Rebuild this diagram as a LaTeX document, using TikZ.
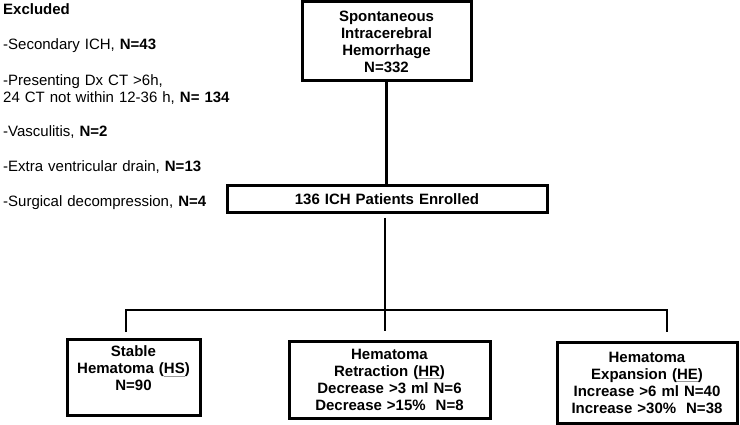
\documentclass[tikz,border=0pt]{standalone}
\usepackage{fontspec}
\setmainfont{Liberation Sans}
\usetikzlibrary{positioning}

\newcommand{\spellmark}[1]{\setbox0\hbox{#1}\rlap{\color{black!40}\rule[-2.5pt]{\wd0}{0.6pt}}\box0}

\begin{document}
\begin{tikzpicture}[x=1pt, y=-1pt, font=\fontsize{15}{17}\selectfont,
	box/.style={draw, line width=3pt, align=center, inner xsep=4pt, inner ysep=0pt, font=\fontsize{15}{17}\selectfont\bfseries},
	excl/.style={anchor=base west, inner sep=0pt, align=left, text width=330pt},
	link/.style={line width=2.6pt}]
	\useasboundingbox (0,0) rectangle (740,425);

	% excluded patients
	\node[excl, font=\fontsize{15}{17}\selectfont\bfseries] (exhead) at (3,15) {Excluded};
	\node[excl] (ex1) at (3,50) {-Secondary ICH, \textbf{N=43}};
	\node[excl] (ex2) at (3,86) {-Presenting Dx CT >6h,\\24 CT not within 12-36 h, \textbf{N= 134}};
	\node[excl] (ex3) at (3,137) {-Vasculitis, \textbf{N=2}};
	\node[excl] (ex4) at (3,172) {-Extra ventricular drain, \textbf{N=13}};
	\node[excl] (ex5) at (3,207) {-Surgical decompression, \textbf{N=4}};

	% main flow
	\node[box, text width=161pt, minimum height=79pt] (ich) at (386.5,41.5) {Spontaneous\\Intracerebral\\Hemorrhage\\N=332};
	\node[box, text width=312pt, minimum height=27pt] (enrolled) at (387,199.5) {136 ICH Patients Enrolled};

	\node[box, text width=125pt, minimum height=76pt] (hs) at (133.5,377) {Stable\\Hematoma (\spellmark{HS})\\N=90\\\mbox{}};
	\node[box, text width=193pt, minimum height=77pt] (hr) at (389.5,379.5) {Hematoma\\Retraction (\spellmark{HR})\\Decrease >3 ml N=6\\Decrease >15\%\ \ N=8};
	\node[box, text width=172pt, minimum height=81pt] (he) at (647,382.5) {Hematoma\\Expansion (\spellmark{HE})\\Increase >6 ml N=40\\Increase >30\%\ \ N=38};

	% connectors
	\coordinate (c1) at (385,218);
	\coordinate (split) at (385,310);
	\coordinate (c2) at (385,331);
	\coordinate (c3) at (126,332);
	\coordinate (c4) at (667,332);

	\draw[link] (ich.south) -- (ich.south |- enrolled.north);
	\draw[link] (c1) -- (c2);
	\draw[link] (c3) |- (split) -| (c4);
\end{tikzpicture}
\end{document}
